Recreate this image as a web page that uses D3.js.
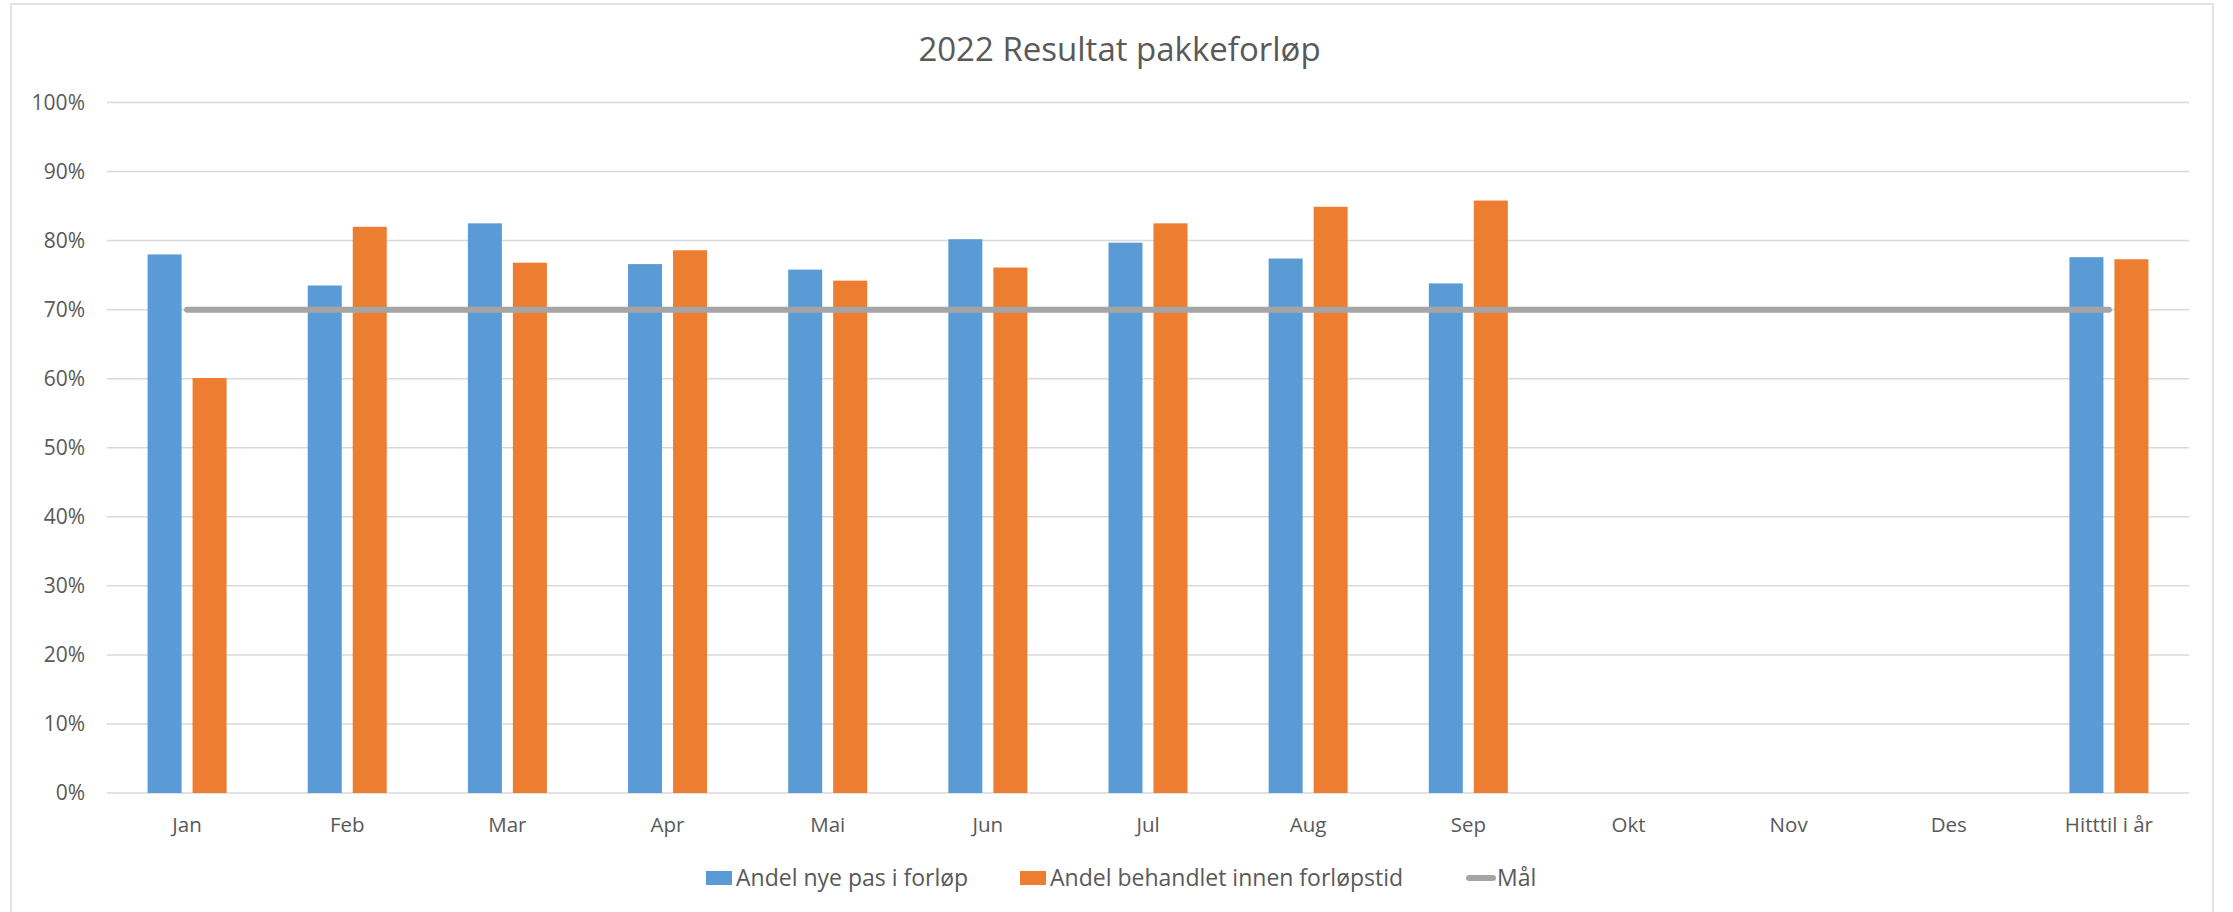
<!DOCTYPE html>
<meta charset="utf-8">
<style>
  body { margin: 0; background: #ffffff; }
  svg text { font-family: "Open Sans", "Noto Sans", sans-serif; fill: #595959; }
</style>
<body>
  <div id="chart"></div>
</body>
<script src="https://d3js.org/d3.v7.min.js"></script>
<script>
  // data
  const months = ["Jan", "Feb", "Mar", "Apr", "Mai", "Jun", "Jul", "Aug", "Sep", "Okt", "Nov", "Des", "Hitttil i år"];
  const andelNye = [78.0, 73.5, 82.5, 76.6, 75.8, 80.2, 79.7, 77.4, 73.8, null, null, null, 77.6];
  const andelBehandlet = [60.1, 82.0, 76.8, 78.6, 74.2, 76.1, 82.5, 84.9, 85.8, null, null, null, 77.3];
  const maal = [70, 70, 70, 70, 70, 70, 70, 70, 70, 70, 70, 70, 70];
  const yTicks = [0, 10, 20, 30, 40, 50, 60, 70, 80, 90, 100];
  const seriesNames = ["Andel nye pas i forløp", "Andel behandlet innen forløpstid", "Mål"];
  const colors = ["#5B9BD5", "#ED7D31", "#A5A5A5"];

  const width = 2233, height = 912;
  const margin = { left: 107, right: 44, top: 102.5, bottom: 119 };

  const svg = d3.select("#chart").append("svg")
    .attr("width", width)
    .attr("height", height);

  // chart area border
  svg.append("rect")
    .attr("x", 11).attr("y", 4)
    .attr("width", 2202).attr("height", 940)
    .attr("fill", "none")
    .attr("stroke", "#D9D9D9")
    .attr("stroke-width", 1.5);

  svg.append("text")
    .attr("x", width / 2 + 3)
    .attr("y", 61)
    .attr("text-anchor", "middle")
    .style("font-size", "33px")
    .text("2022 Resultat pakkeforløp");

  const x = d3.scaleBand()
    .domain(months)
    .range([margin.left, width - margin.right]);

  const y = d3.scaleLinear()
    .domain([0, 100])
    .range([height - margin.bottom, margin.top]);

  // gridlines
  svg.append("g")
    .selectAll("line")
    .data(yTicks)
    .join("line")
    .attr("x1", margin.left)
    .attr("x2", width - margin.right)
    .attr("y1", d => y(d))
    .attr("y2", d => y(d))
    .attr("stroke", "#D9D9D9")
    .attr("stroke-width", 1.5);

  // y axis labels
  const yAxis = svg.append("g")
    .attr("transform", `translate(${margin.left - 22},0)`)
    .call(d3.axisLeft(y).tickValues(yTicks).tickFormat(d => d + "%").tickSize(0).tickPadding(0));
  yAxis.select(".domain").remove();
  yAxis.selectAll("text").style("font-size", "21px").attr("fill", "#595959");

  // x axis labels
  const xAxis = svg.append("g")
    .attr("transform", `translate(0,${height - margin.bottom})`)
    .call(d3.axisBottom(x).tickSize(0).tickPadding(24));
  xAxis.select(".domain").remove();
  xAxis.selectAll("text").style("font-size", "20.5px").attr("fill", "#595959");

  const barW = 34, barGap = 11;
  const series = [andelNye, andelBehandlet];

  series.forEach(function (vals, s) {
    svg.append("g")
      .selectAll("rect")
      .data(months.map((m, i) => ({ m: m, v: vals[i] })).filter(d => d.v != null))
      .join("rect")
      .attr("x", d => x(d.m) + x.bandwidth() / 2 + (s === 0 ? -barW - barGap / 2 : barGap / 2))
      .attr("y", d => y(d.v))
      .attr("width", barW)
      .attr("height", d => y(0) - y(d.v))
      .attr("fill", colors[s]);
  });

  // target line
  const line = d3.line()
    .x((d, i) => x(months[i]) + x.bandwidth() / 2)
    .y(d => y(d));

  svg.append("path")
    .datum(maal)
    .attr("d", line)
    .attr("fill", "none")
    .attr("stroke", colors[2])
    .attr("stroke-width", 6)
    .attr("stroke-linecap", "round");

  // legend
  const legendY = 878;
  const legend = svg.append("g");
  const legendX = [706, 1020, 1467];

  seriesNames.forEach(function (name, i) {
    const g = legend.append("g").attr("transform", `translate(${legendX[i]},${legendY})`);
    if (i < 2) {
      g.append("rect").attr("x", 0).attr("y", -7).attr("width", 26).attr("height", 14).attr("fill", colors[i]);
    } else {
      g.append("line").attr("x1", 2).attr("x2", 26).attr("y1", 0).attr("y2", 0)
        .attr("stroke", colors[i]).attr("stroke-width", 6).attr("stroke-linecap", "round");
    }
    g.append("text")
      .attr("x", 30)
      .attr("y", 0)
      .attr("dy", "0.35em")
      .style("font-size", "23px")
      .text(name);
  });
</script>
